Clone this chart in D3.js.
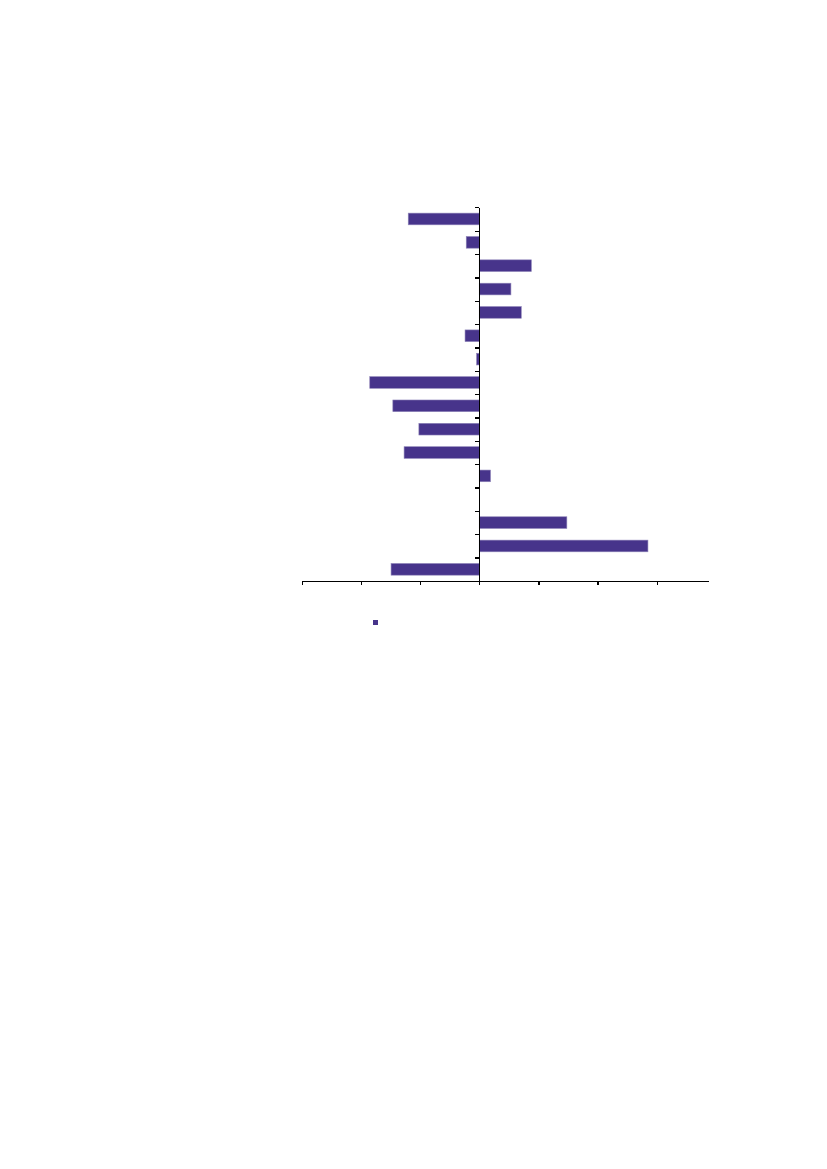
<!DOCTYPE html>
<html lang="en">
<head>
  <meta charset="UTF-8">
  <title>Horizontal bar chart</title>
  <script src="https://d3js.org/d3.v7.min.js"></script>
  <style>
    body {
      margin: 0;
      background: #ffffff;
      font-family: 'Liberation Sans', Arial, sans-serif;
    }
    .axis path,
    .axis line {
      stroke: #000;
      stroke-width: 1.3px;
      shape-rendering: crispEdges;
    }
  </style>
</head>
<body>
  <div id="chart"></div>
  <script>
    // categories top to bottom (no labels are printed in the reference)
    const categories = ["c1", "c2", "c3", "c4", "c5", "c6", "c7", "c8",
      "c9", "c10", "c11", "c12", "c13", "c14", "c15", "c16"];
    const values = [-1.20, -0.22, 0.88, 0.535, 0.71, -0.24, -0.045, -1.85,
      -1.46, -1.02, -1.27, 0.19, 0, 1.48, 2.85, -1.49];
    const xTicks = [-3, -2, -1, 0, 1, 2, 3];
    const xDomain = [-3, 3.87];

    const width = 827, height = 1169;
    const plot = { left: 301.7, right: 708.3, top: 207.3, bottom: 581 };
    const barColor = "#47348b";

    const svg = d3.select("#chart")
      .append("svg")
      .attr("width", width)
      .attr("height", height);

    const x = d3.scaleLinear()
      .domain(xDomain)
      .range([plot.left, plot.right]);

    const y = d3.scaleBand()
      .domain(categories)
      .range([plot.top, plot.bottom])
      .paddingInner(0.5)
      .paddingOuter(0.25);

    // band boundaries for the category tick marks
    const yEdges = d3.scaleLinear()
      .domain([0, categories.length])
      .range([plot.top, plot.bottom]);

    svg.selectAll(".bar")
      .data(values)
      .enter().append("rect")
      .attr("class", "bar")
      .attr("x", d => x(Math.min(0, d)))
      .attr("y", (d, i) => y(categories[i]))
      .attr("width", d => Math.abs(x(d) - x(0)))
      .attr("height", y.bandwidth())
      .attr("fill", barColor)
      .attr("stroke", "#8e84b8")
      .attr("stroke-width", 0.6);

    svg.append("g")
      .attr("class", "axis")
      .attr("transform", `translate(0,${plot.bottom})`)
      .call(d3.axisBottom(x)
        .tickValues(xTicks)
        .tickSize(4)
        .tickSizeOuter(0)
        .tickFormat(""));

    svg.append("g")
      .attr("class", "axis")
      .attr("transform", `translate(${x(0)},0)`)
      .call(d3.axisLeft(yEdges)
        .tickValues(d3.range(0, categories.length + 1))
        .tickSize(4)
        .tickSizeOuter(0)
        .tickFormat(""));

    // legend key
    svg.append("rect")
      .attr("x", 373)
      .attr("y", 620)
      .attr("width", 5)
      .attr("height", 5)
      .attr("fill", barColor);
  </script>
</body>
</html>
